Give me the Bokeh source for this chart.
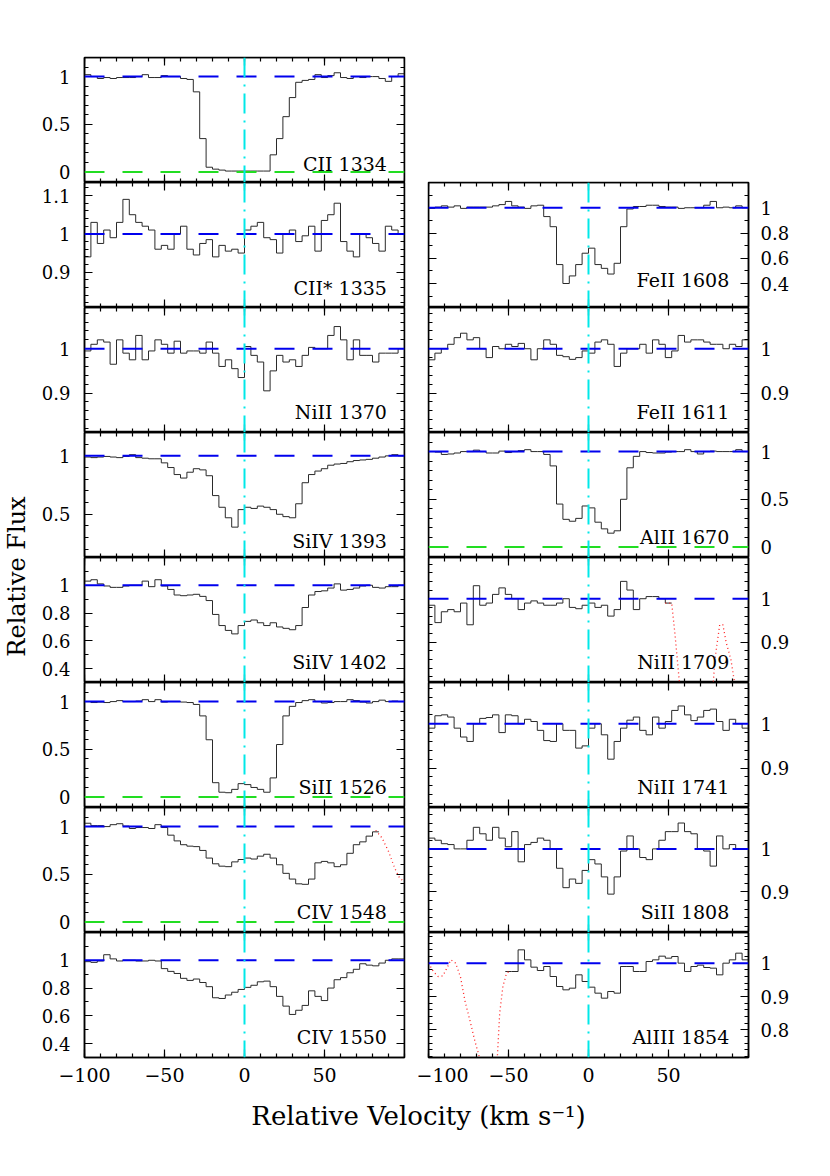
import numpy as np
from bokeh.plotting import figure
from bokeh.models import Range1d, FixedTicker, LinearAxis, Span, Label, NumeralTickFormatter
from bokeh.layouts import column, row
from bokeh.embed import file_html
from bokeh.resources import INLINE

# ---------------- data ----------------
BIN = 4
VEL = list(range(-98, 99, BIN))          # bin centres, km/s

CII_1334 = [1.02, 1.00, 0.98, 0.99, 0.98, 0.99, 0.99, 0.99, 1.00, 1.02, 0.99, 0.99, 1.01, 1.00, 1.00, 0.98, 0.97,
            0.84, 0.35, 0.05, 0.03, 0.02, 0.01, 0.01, 0.01, 0.01, 0.01, 0.01, 0.01,
            0.18, 0.35, 0.58, 0.78, 0.94, 0.96, 0.97, 1.02, 0.99, 1.01, 1.04, 0.99, 0.98, 1.00, 0.99, 1.00, 1.00, 0.98, 0.95, 1.00, 1.03]
CII_1335 = [0.94, 1.03, 0.975, 1.01, 0.99, 1.03, 1.09, 1.05, 1.03, 1.02, 1.01, 0.96, 0.97, 0.96, 1.00, 1.02, 0.96, 0.945, 0.975, 0.985,
            0.94, 0.97, 0.955, 0.96, 0.95, 1.01, 1.02, 1.03, 0.99, 0.985, 0.95, 1.00, 1.01, 0.98, 0.995, 1.02, 0.955, 1.035, 1.05, 1.08,
            0.98, 0.955, 0.94, 1.00, 0.99, 0.975, 0.955, 1.02, 1.01, 1.00]
NIII_1370 = [0.995, 1.01, 1.02, 1.015, 0.965, 1.02, 0.99, 0.975, 1.03, 0.975, 0.995, 1.02, 1.01, 0.99, 1.017, 0.99, 0.995, 0.995, 0.99, 1.015,
             0.99, 0.96, 0.975, 0.955, 0.935, 1.005, 0.985, 0.97, 0.905, 0.95, 0.985, 0.97, 0.975, 0.96, 0.985, 1.003, 1.0, 1.0, 1.03, 1.05,
             1.02, 0.975, 1.02, 0.985, 0.985, 0.97, 0.99, 0.99, 0.99, 1.0]
SIIV_1393 = [0.99, 0.985, 0.99, 0.995, 0.99, 0.985, 0.995, 1.01, 0.985, 0.98, 0.975, 0.975, 0.94, 0.90, 0.84, 0.81, 0.86, 0.89, 0.88, 0.83,
             0.66, 0.56, 0.47, 0.39, 0.54, 0.56, 0.55, 0.57, 0.56, 0.54, 0.50, 0.48, 0.47, 0.59, 0.77, 0.84, 0.87, 0.89, 0.92, 0.93,
             0.935, 0.95, 0.96, 0.965, 0.97, 0.98, 0.99, 1.0, 1.01, 1.0]
SIIV_1402 = [1.03, 1.04, 1.01, 0.995, 0.985, 0.985, 0.995, 1.0, 1.0, 1.03, 0.99, 1.04, 0.995, 0.97, 0.93, 0.925, 0.93, 0.935, 0.92, 0.89,
             0.79, 0.71, 0.675, 0.65, 0.71, 0.74, 0.75, 0.73, 0.71, 0.73, 0.70, 0.69, 0.68, 0.71, 0.84, 0.93, 0.955, 0.96, 0.98, 1.01,
             0.965, 0.97, 0.98, 0.995, 1.0, 0.985, 0.98, 0.99, 0.99, 1.0]
SIII_1526 = [1.0, 0.99, 0.995, 0.99, 1.0, 1.01, 1.0, 1.0, 1.005, 1.02, 1.0, 1.02, 0.995, 1.0, 1.0, 0.995, 0.99, 0.97, 0.85, 0.6,
             0.15, 0.05, 0.045, 0.08, 0.14, 0.13, 0.10, 0.08, 0.05, 0.2, 0.55, 0.85, 0.95, 0.99, 1.01, 1.02, 1.0, 0.985, 0.99, 1.0,
             1.0, 1.02, 1.01, 0.995, 0.985, 1.0, 1.015, 1.0, 1.005, 1.0]
CIV_1548 = [1.035, 1.01, 1.01, 1.0, 1.02, 1.03, 1.005, 0.98, 0.99, 0.99, 0.98, 1.02, 0.99, 0.91, 0.85, 0.81, 0.795, 0.79, 0.75, 0.67,
            0.61, 0.585, 0.58, 0.63, 0.655, 0.67, 0.66, 0.69, 0.71, 0.67, 0.6, 0.51, 0.45, 0.40, 0.395, 0.45, 0.62, 0.635, 0.62, 0.58,
            0.6, 0.72, 0.81, 0.84, 0.9, 0.945, None, None, None, None]
CIV_1550 = [0.99, 0.985, 0.995, 1.04, 1.01, 0.995, 1.0, 1.0, 0.995, 0.995, 1.0, 0.995, 0.94, 0.92, 0.905, 0.87, 0.855, 0.865, 0.84, 0.81,
            0.73, 0.725, 0.75, 0.77, 0.79, 0.805, 0.82, 0.845, 0.85, 0.81, 0.74, 0.67, 0.61, 0.64, 0.675, 0.78, 0.74, 0.71, 0.8, 0.86,
            0.875, 0.91, 0.935, 0.975, 0.965, 0.96, 0.98, 1.0, 1.01, 1.01]
FEII_1608 = [0.995, 1.005, 1.015, 1.005, 1.015, 0.995, 1.005, 1.005, 1.005, 1.005, 1.015, 1.025, 1.05, 1.015, 1.005, 0.995, 1.015, 1.02, 0.93, 0.85,
             0.55, 0.40, 0.46, 0.55, 0.64, 0.68, 0.55, 0.52, 0.475, 0.56, 0.85, 0.99, 1.01, 1.01, 1.02, 1.02, 1.01, 1.005, 1.005, 0.995,
             1.0, 1.0, 1.0, 1.02, 1.05, 1.0, 1.005, 1.0, 1.015, 1.0]
FEII_1611 = [0.975, 0.99, 1.0, 1.01, 1.025, 1.035, 1.02, 1.025, 1.0, 0.98, 1.005, 1.0, 1.01, 1.005, 1.012, 1.0, 0.975, 1.0, 1.02, 1.01,
             0.985, 0.982, 0.976, 0.98, 0.995, 0.99, 1.015, 1.02, 1.01, 0.96, 0.99, 1.0, 1.0, 1.01, 0.99, 1.02, 1.01, 0.98, 0.995, 1.03,
             1.015, 1.02, 1.02, 1.015, 1.01, 1.01, 1.0, 1.01, 1.005, 1.02]
ALII_1670 = [1.0, 0.995, 0.97, 0.975, 0.985, 1.0, 1.0, 1.015, 1.0, 0.985, 0.985, 1.005, 0.99, 1.0, 1.01, 1.02, 1.0, 1.0, 0.97, 0.85,
             0.45, 0.29, 0.27, 0.30, 0.43, 0.41, 0.26, 0.19, 0.145, 0.17, 0.5, 0.83, 0.95, 1.0, 0.99, 0.985, 0.985, 0.995, 1.0, 1.0,
             1.02, 1.0, 0.975, 1.0, 1.005, 1.0, 1.0, 1.0, 1.02, 1.0]
NIII_1709 = [0.985, 0.945, 0.97, 0.975, 0.97, 0.99, 0.94, 1.03, 0.985, 0.99, 1.01, 1.025, 1.01, 1.0, 0.975, 0.99, 0.995, 0.99, 0.985, 0.985,
             0.99, 1.0, 0.98, 0.977, 0.985, 0.99, 0.98, 0.985, 0.96, 0.975, 1.04, 1.02, 0.975, 1.0, 1.005, 1.005, 1.0, 0.99,
             None, None, None, None, None, None, None, None, None, None, None, None]
NIII_1741 = [0.99, 1.018, 1.02, 1.015, 0.99, 0.97, 0.96, 1.0, 1.012, 1.014, 1.02, 0.98, 1.02, 1.018, 1.0, 1.01, 1.005, 0.985, 0.962, 0.96,
             1.0, 0.985, 0.985, 0.945, 0.95, 0.99, 1.0, 0.975, 0.92, 0.96, 0.99, 1.008, 1.015, 0.985, 0.975, 1.015, 0.99, 1.005, 1.03, 1.04,
             1.02, 1.007, 1.015, 1.03, 1.033, 1.005, 0.985, 1.01, 1.0, 0.99]
SIII_1808 = [1.025, 1.02, 1.012, 1.01, 1.0, 1.0, 1.02, 1.05, 1.035, 1.02, 1.05, 1.025, 1.005, 1.04, 0.97, 1.01, 1.015, 1.025, 1.02, 1.0,
             0.955, 0.91, 0.93, 0.92, 0.95, 0.975, 0.965, 0.935, 0.895, 0.935, 0.995, 1.03, 1.0, 0.98, 0.975, 1.0, 1.02, 1.04, 1.04, 1.06,
             1.04, 1.035, 1.0, 0.995, 0.96, 1.03, 1.0, 1.01, 1.0, 1.0]
ALIII_1854 = [None, None, None, None, None, None, None, None, None, None, None, None,
              0.975, 0.975, 1.04, 1.01, 0.988, 0.978, 0.99, 0.96, 0.93, 0.92, 0.925, 0.965, 0.945, 0.928, 0.91, 0.895, 0.915, 0.91,
              0.99, 0.99, 0.975, 0.975, 1.005, 1.01, 1.021, 1.015, 1.02, 1.0, 0.975, 0.99, 0.994, 0.987, 0.985, 0.965, 1.0, 1.01, 1.03, 1.01]

# blended features (dotted red)
RED_CIV1548_V = [82, 86, 90, 94, 97, 100]
RED_CIV1548_F = [0.96, 0.88, 0.74, 0.56, 0.46, 0.42]
RED_NIII1709_V = [48, 52, 54, 56, 58, 62, 70, 76, 79, 82, 84, 86, 89, 92, 96]
RED_NIII1709_F = [0.99, 0.99, 0.92, 0.84, 0.76, 0.65, 0.5, 0.7, 0.86, 0.94, 0.94, 0.9, 0.86, 0.79, 0.7]
RED_ALIII1854_V = [-100, -97, -94, -91, -88, -86, -83, -80, -77, -74, -71, -68, -65, -60, -57, -55.5, -53.5, -51.5, -50]
RED_ALIII1854_F = [1.0, 0.975, 0.96, 0.962, 0.99, 1.01, 1.0, 0.958, 0.882, 0.826, 0.766, 0.715, 0.66, 0.66, 0.715, 0.85, 0.93, 0.965, 0.975]

XTICKS = [-100, -50, 0, 50]
XTICK_LABELS = {-100: "\u2212100", -50: "\u221250", 0: "0", 50: "50"}

# (label, flux, y-range, major y ticks, minor step, zero line, red model)
LEFT = [
    ("CII 1334", CII_1334, (-0.11, 1.2), [0, 0.5, 1], 0.1, True, None),
    ("CII* 1335", CII_1335, (0.808, 1.134), [0.9, 1, 1.1], 0.02, False, None),
    ("NiII 1370", NIII_1370, (0.811, 1.093), [0.9, 1], 0.02, False, None),
    ("SiIV 1393", SIIV_1393, (0.13, 1.2), [0.5, 1], 0.1, False, None),
    ("SiIV 1402", SIIV_1402, (0.3, 1.2), [0.4, 0.6, 0.8, 1], 0.1, False, None),
    ("SiII 1526", SIII_1526, (-0.11, 1.2), [0, 0.5, 1], 0.1, True, None),
    ("CIV 1548", CIV_1548, (-0.11, 1.2), [0, 0.5, 1], 0.1, True, (RED_CIV1548_V, RED_CIV1548_F)),
    ("CIV 1550", CIV_1550, (0.3, 1.2), [0.4, 0.6, 0.8, 1], 0.1, False, None),
]
RIGHT = [
    ("FeII 1608", FEII_1608, (0.21, 1.2), [0.4, 0.6, 0.8, 1], 0.1, False, None),
    ("FeII 1611", FEII_1611, (0.811, 1.093), [0.9, 1], 0.02, False, None),
    ("AlII 1670", ALII_1670, (-0.11, 1.2), [0, 0.5, 1], 0.1, True, None),
    ("NiII 1709", NIII_1709, (0.807, 1.095), [0.9, 1], 0.02, False, (RED_NIII1709_V, RED_NIII1709_F)),
    ("NiII 1741", NIII_1741, (0.811, 1.093), [0.9, 1], 0.02, False, None),
    ("SiII 1808", SIII_1808, (0.806, 1.096), [0.9, 1], 0.02, False, None),
    ("AlIII 1854", ALIII_1854, (0.717, 1.092), [0.8, 0.9, 1], 0.02, False, (RED_ALIII1854_V, RED_ALIII1854_F)),
]
# label baseline height above panel bottom (px)
LEFT_LAB_H = [18.5, 20, 21, 16.5, 21, 21, 21, 21]
RIGHT_LAB_H = [28, 21, 21, 21, 21, 21, 21]

# ---------------- styling / geometry ----------------
FONT = "DejaVu Serif"
FW, FH = 320, 125
TOP_L = 57
TOP_R = TOP_L + FH
BOT = 34
YLAB_W = 38


def runs(vel, flux):
    segs, cx, cy = [], [], []
    for v, f in zip(vel, flux):
        if f is None:
            if cx:
                segs.append((cx, cy))
            cx, cy = [], []
        else:
            cx.append(v)
            cy.append(f)
    if cx:
        segs.append((cx, cy))
    return segs


def style_axis(ax, labels, standoff=14, size="18px"):
    ax.axis_line_color = "black"
    ax.axis_line_width = 1.5
    ax.major_tick_in = 8
    ax.major_tick_out = 0
    ax.minor_tick_in = 4
    ax.minor_tick_out = 0
    ax.major_tick_line_color = "black"
    ax.minor_tick_line_color = "black"
    ax.major_tick_line_width = 1.2
    ax.minor_tick_line_width = 1.2
    if labels:
        ax.major_label_text_font = FONT
        ax.major_label_text_font_size = size
        ax.major_label_text_color = "black"
        ax.major_label_standoff = standoff
    else:
        ax.major_label_text_color = None
        ax.major_label_text_alpha = 0
        ax.major_label_standoff = 0


def make_panel(cfg, lab_h, side, first, last):
    label, flux, (lo, hi), majors, mstep, zero, red = cfg
    p = figure(frame_width=FW, frame_height=FH,
               x_range=Range1d(-100, 100), y_range=Range1d(lo, hi),
               x_axis_type=None, y_axis_type=None,
               toolbar_location=None, output_backend="svg",
               min_border_left=45 if side == "L" else 12,
               min_border_right=12 if side == "L" else 50,
               min_border_top=(TOP_L if side == "L" else TOP_R) if first else 0,
               min_border_bottom=BOT if last else 0)
    p.outline_line_color = "black"
    p.outline_line_width = 1.5
    p.background_fill_color = "white"
    p.border_fill_color = "white"

    minors = [round(v, 4) for v in np.arange(np.ceil(lo / mstep) * mstep, hi, mstep)]
    yt = FixedTicker(ticks=majors, minor_ticks=minors)
    xt = FixedTicker(ticks=XTICKS, minor_ticks=list(range(-100, 101, 10)))

    # x axes
    if last:
        bx = LinearAxis(ticker=xt, major_label_overrides=XTICK_LABELS)
        style_axis(bx, True, standoff=10, size="19px")
    else:
        bx = LinearAxis(ticker=xt, fixed_location=lo)
        style_axis(bx, False)
    p.add_layout(bx, "below")
    ax_top = LinearAxis(ticker=xt, fixed_location=hi)
    style_axis(ax_top, False)
    p.add_layout(ax_top, "above")

    # y axes
    fmt = NumeralTickFormatter(format="0.[0]")
    if side == "L":
        ly = LinearAxis(ticker=yt, formatter=fmt)
        style_axis(ly, True, standoff=14)
        ry = LinearAxis(ticker=yt, fixed_location=100)
        style_axis(ry, False)
    else:
        ly = LinearAxis(ticker=yt, fixed_location=-100)
        style_axis(ly, False)
        ry = LinearAxis(ticker=yt, formatter=fmt)
        style_axis(ry, True, standoff=12)
    p.add_layout(ly, "left")
    p.add_layout(ry, "right")

    # spectrum as histogram
    for xs, ys in runs(VEL, flux):
        edges = [x - BIN / 2 for x in xs] + [xs[-1] + BIN / 2]
        vals = ys + [ys[-1]]
        p.step(edges, vals, mode="after", line_color="#2a2a2a", line_width=1)

    if red is not None:
        p.line(red[0], red[1], line_color="#ff2020", line_width=1.3, line_dash="1 3")

    p.add_layout(Span(location=1, dimension="width", line_color="#0000ee",
                      line_width=2, line_dash="20 18"))
    if zero:
        p.add_layout(Span(location=0, dimension="width", line_color="#22dd22",
                          line_width=2, line_dash="20 18"))
    p.add_layout(Span(location=0, dimension="height", line_color="#00e8e8",
                      line_width=2, line_dash="20 7 2 7"))

    p.add_layout(Label(x=89 if side == "L" else 88, y=lo + lab_h / FH * (hi - lo),
                       text=label, text_align="right", text_baseline="alphabetic",
                       text_font=FONT, text_font_size="19px", text_color="black"))
    return p


left_figs = [make_panel(c, h, "L", i == 0, i == len(LEFT) - 1)
             for i, (c, h) in enumerate(zip(LEFT, LEFT_LAB_H))]
right_figs = [make_panel(c, h, "R", i == 0, i == len(RIGHT) - 1)
              for i, (c, h) in enumerate(zip(RIGHT, RIGHT_LAB_H))]

TOTAL_H = TOP_L + len(LEFT) * FH + BOT
ylab = figure(width=YLAB_W, height=TOTAL_H, x_range=Range1d(0, YLAB_W), y_range=Range1d(0, TOTAL_H),
              x_axis_type=None, y_axis_type=None, toolbar_location=None,
              output_backend="svg", min_border=0)
ylab.outline_line_color = None
ylab.add_layout(Label(x=16, y=TOTAL_H - 576, text="Relative Flux", angle=np.pi / 2,
                      text_align="center", text_baseline="middle",
                      text_font=FONT, text_font_size="24px", text_color="black"))

TOTAL_W = YLAB_W + (45 + FW + 12) + (12 + FW + 50)
XLAB_H = 50
xlab = figure(width=TOTAL_W, height=XLAB_H, x_range=Range1d(0, TOTAL_W), y_range=Range1d(0, XLAB_H),
              x_axis_type=None, y_axis_type=None, toolbar_location=None,
              output_backend="svg", min_border=0)
xlab.outline_line_color = None
title_y_page = 1115.5
xlab.add_layout(Label(x=418, y=(TOTAL_H + XLAB_H) - title_y_page, text="Relative Velocity (km s\u207b\u00b9)",
                      text_align="center", text_baseline="middle",
                      text_font=FONT, text_font_size="26px", text_color="black"))

root = column(row(ylab, column(*left_figs), column(*right_figs)), xlab)

open("out.html", "w").write(file_html(root, INLINE, "Relative Flux"))
